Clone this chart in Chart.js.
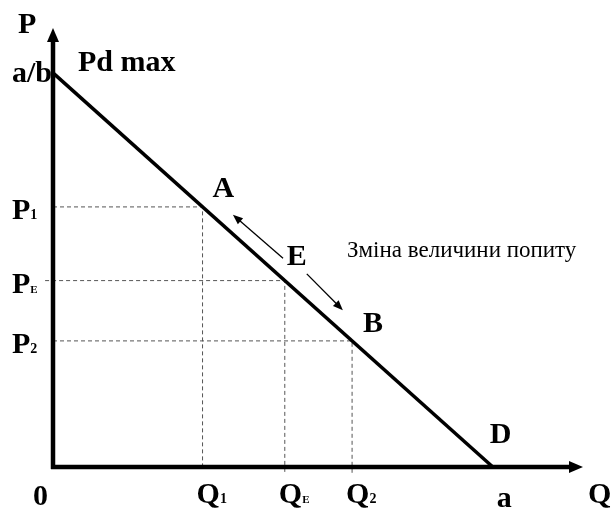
<!DOCTYPE html>
<html>
<head>
<meta charset="utf-8">
<script src="https://cdn.jsdelivr.net/npm/chart.js@4/dist/chart.umd.min.js"></script>
<style>
  body { margin: 0; background: #fff; }
  #wrap { width: 611px; height: 509px; }
</style>
</head>
<body>
<div id="wrap"><canvas id="demandChart" width="611" height="509"></canvas></div>
<script>
// Demand curve end points (Q, P): from a/b on the P axis down to a on the Q axis
const demandQ = [0, 10];
const demandP = [10, 0];

// Points A, E, B on the curve
const pointNames = ['A', 'E', 'B'];
const qValues = [3.4, 5.27, 6.8];   // Q1, QE, Q2
const pValues = [6.6, 4.73, 3.2];   // P1, PE, P2
const subLabels = ['1', 'E', '2'];

// Axis ranges
const qMax = 12.05;
const pMax = 11.14;

// Movement arrows along the curve (from, to)
const arrowUp = [[5.23, 5.30], [4.09, 6.40]];
const arrowDown = [[5.77, 4.90], [6.59, 3.98]];

const caption = 'Зміна величини попиту';
const boldFont = 'bold 30px "Liberation Serif", "Times New Roman", serif';

// guide lines: P axis -> point -> Q axis
const guideSets = qValues.map((q, i) => ({
    data: [
        { x: i === 1 ? -0.18 : 0, y: pValues[i] },
        { x: q, y: pValues[i] },
        { x: q, y: i === 0 ? 0 : -0.2 }
    ],
    showLine: true,
    borderColor: '#555',
    borderWidth: 1,
    borderDash: [4, 3],
    pointRadius: 0,
    clip: false
}));

function drawSub(ctx, main, sub, x, y) {
    ctx.font = boldFont;
    ctx.fillText(main, x, y);
    const w = ctx.measureText(main).width;
    ctx.font = sub === 'E'
        ? 'bold 11px "Liberation Serif", serif'
        : 'bold 14px "Liberation Serif", serif';
    ctx.fillText(sub, x + w, y);
}

function drawArrow(ctx, x1, y1, x2, y2, width, headLen, headW) {
    const ang = Math.atan2(y2 - y1, x2 - x1);
    ctx.lineWidth = width;
    ctx.beginPath();
    ctx.moveTo(x1, y1);
    ctx.lineTo(x2 - Math.cos(ang) * headLen * 0.8, y2 - Math.sin(ang) * headLen * 0.8);
    ctx.stroke();
    ctx.beginPath();
    ctx.moveTo(x2, y2);
    ctx.lineTo(x2 - headLen * Math.cos(ang) + headW * Math.sin(ang),
               y2 - headLen * Math.sin(ang) - headW * Math.cos(ang));
    ctx.lineTo(x2 - headLen * Math.cos(ang) - headW * Math.sin(ang),
               y2 - headLen * Math.sin(ang) + headW * Math.cos(ang));
    ctx.closePath();
    ctx.fill();
}

const overlay = {
    id: 'overlay',
    afterDatasetsDraw(chart) {
        const ctx = chart.ctx;
        const xs = chart.scales.x, ys = chart.scales.y;
        const x0 = xs.getPixelForValue(0), y0 = ys.getPixelForValue(0);
        const xEnd = xs.getPixelForValue(qMax), yTop = ys.getPixelForValue(pMax);
        ctx.save();
        ctx.fillStyle = '#000';
        ctx.strokeStyle = '#000';

        // axes with arrowheads
        drawArrow(ctx, x0, y0 + 2, x0, yTop, 4.5, 14, 6);
        drawArrow(ctx, x0 - 2, y0, xEnd, y0, 4.5, 14, 6);

        // movement arrows
        [arrowUp, arrowDown].forEach(a => {
            drawArrow(ctx, xs.getPixelForValue(a[0][0]), ys.getPixelForValue(a[0][1]),
                      xs.getPixelForValue(a[1][0]), ys.getPixelForValue(a[1][1]), 1.3, 10, 4);
        });

        ctx.textBaseline = 'alphabetic';
        ctx.font = boldFont;
        ctx.fillText('P', x0 - 35, yTop + 5);
        ctx.fillText('Q', xEnd + 5, y0 + 36);
        ctx.fillText('0', x0 - 20, y0 + 38);
        ctx.fillText('a/b', x0 - 41, ys.getPixelForValue(demandP[0]) + 9);
        ctx.fillText('Pd max', x0 + 25, ys.getPixelForValue(demandP[0]) - 2);
        ctx.fillText('a', xs.getPixelForValue(demandQ[1]) + 4, y0 + 40);
        ctx.fillText('D', xs.getPixelForValue(demandQ[1]) - 3, y0 - 24);

        // point names
        const nameOffsets = [[10, -10], [2, -16], [11, -9]];
        pointNames.forEach((n, i) => {
            ctx.font = boldFont;
            ctx.fillText(n, xs.getPixelForValue(qValues[i]) + nameOffsets[i][0],
                         ys.getPixelForValue(pValues[i]) + nameOffsets[i][1]);
        });

        // axis labels with subscripts
        qValues.forEach((q, i) => {
            drawSub(ctx, 'Q', subLabels[i], xs.getPixelForValue(q) - 6, y0 + 36);
            drawSub(ctx, 'P', subLabels[i], x0 - 41, ys.getPixelForValue(pValues[i]) + 12);
        });

        ctx.font = '23px "Liberation Serif", "Times New Roman", serif';
        ctx.fillText(caption, 347, 257);
        ctx.restore();
    }
};

new Chart(document.getElementById('demandChart'), {
    type: 'scatter',
    data: {
        datasets: [
            {
                data: demandQ.map((q, i) => ({ x: q, y: demandP[i] })),
                showLine: true,
                borderColor: '#000',
                borderWidth: 3.5,
                pointRadius: 0,
                clip: false
            },
            ...guideSets
        ]
    },
    options: {
        responsive: false,
        animation: false,
        layout: { padding: { left: 53, right: 28, top: 28, bottom: 42 } },
        scales: {
            x: { type: 'linear', min: 0, max: qMax, display: false },
            y: { type: 'linear', min: 0, max: pMax, display: false }
        },
        plugins: { legend: { display: false }, tooltip: { enabled: false } }
    },
    plugins: [overlay]
});
</script>
</body>
</html>
